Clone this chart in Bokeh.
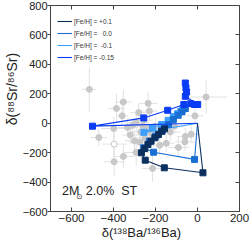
import numpy as np
from bokeh.plotting import figure
from bokeh.models import (LinearAxis, Range1d, FixedTicker, Legend, LegendItem, Label)
from bokeh.embed import file_html
from bokeh.resources import INLINE

# ---------------- data ----------------
# model tracks (delta values, per mil)
trk_p01_x = [0, 26, -158, -249, -267, -251, -236, -221, -203, -186, -171, -157]
trk_p01_y = [0, -337, -303, -251, -201, -172, -145, -122, -99, -77, -54, -38]

trk_000_x = [0, -14, -209, -256, -229, -199, -168, -138, -115, -92, -74, -58]
trk_000_y = [0, -246, -197, -167, -122, -88, -54, -9, 25, 54, 77, 100]

trk_m01_x = [0, -255, -214, -171, -140, -115, -95, -80, -70]
trk_m01_y = [0, -62, -32, -9, 20, 45, 65, 80, 95]

trk_m015_x = [0, -500, -256, -142, -65, -32, -14, 1, -58, -52, -55, -58]
trk_m015_y = [0, -20, 36, 88, 127, 133, 127, 127, 183, 212, 240, 273]

track_labels = ["[Fe/H] = +0.1", "[Fe/H] = \u00a0\u00a00.0", "[Fe/H] = \u00a0-0.1", "[Fe/H] = -0.15"]

# grain measurements (filled)
grain_x = [-515, -470, -399, -397, -386, -359, -353, -353, -333, -320, -300, -292, -292, -280,
           -270, -260, -250, -240, -235, -235, -229, -220, -214, -200, -180, -149, -130, -110,
           -91, -60, -58, -30, -12, 41, -310, -275, -255]
grain_y = [230, -97, -36, -262, 100, 50, 144, -226, -29, -80, -120, 5, -199, 72,
           -60, -20, -100, -40, 135, -29, 83, -70, -307, -20, -150, -136, -60, -20,
           -165, -127, -90, -75, 50, 178, -15, -130, 20]
grain_ex = [35, 40, 60, 50, 40, 30, 40, 50, 50, 40, 45, 40, 60, 40,
            45, 40, 50, 40, 45, 40, 40, 50, 50, 45, 50, 40, 45, 40,
            50, 45, 40, 40, 40, 100, 40, 50, 40]
grain_ey = [150, 60, 80, 100, 100, 70, 80, 80, 60, 60, 70, 60, 90, 60,
            60, 50, 70, 50, 80, 50, 60, 60, 90, 60, 70, 60, 60, 50,
            70, 60, 60, 60, 60, 115, 50, 60, 50]
# grain measurements (open symbols)
open_x = [-397]
open_y = [-142]
open_ex = [60]
open_ey = [80]

note_text = ["2M", "\u2299", "2.0%\u00a0 ST"]
note_x = [-645, -577, -532]
note_y = [-508, -532, -508]

# ---------------- figure ----------------
FONT = "Liberation Sans"
AXC = "#444444"
TXT = "#222222"

p = figure(width=249, height=242, x_range=Range1d(-700, 200), y_range=Range1d(-600, 800),
           output_backend="svg", toolbar_location=None,
           min_border_top=5, min_border_right=10, min_border_left=0, min_border_bottom=0)
p.grid.visible = False
p.outline_line_color = AXC
p.outline_line_width = 1
p.background_fill_color = "white"
p.border_fill_color = "white"

xt = FixedTicker(ticks=[-600, -400, -200, 0, 200])
yt = FixedTicker(ticks=[-600, -400, -200, 0, 200, 400, 600, 800])

xa = p.xaxis[0]
xa.ticker = xt
xa.major_tick_in = 4
xa.major_tick_out = 0
xa.minor_tick_line_color = None
xa.axis_line_color = AXC
xa.major_tick_line_color = AXC
xa.major_label_text_font = FONT
xa.major_label_text_font_size = "11.5px"
xa.major_label_text_color = TXT
xa.major_label_standoff = 2
xa.axis_label = "\u03b4(\u00b9\u00b3\u2078Ba/\u00b9\u00b3\u2076Ba)\u00a0\u00a0"
xa.axis_label_text_font = FONT
xa.axis_label_text_font_size = "13px"
xa.axis_label_text_font_style = "normal"
xa.axis_label_text_color = TXT
xa.axis_label_standoff = 0

ya = p.yaxis[0]
ya.ticker = yt
ya.major_tick_in = 0
ya.major_tick_out = 3
ya.minor_tick_line_color = None
ya.axis_line_color = AXC
ya.major_tick_line_color = AXC
ya.major_label_text_font = FONT
ya.major_label_text_font_size = "11px"
ya.major_label_text_color = TXT
ya.major_label_standoff = 0
ya.axis_label = "\u00a0" * 10 + "\u03b4(\u2078\u2078Sr/\u2078\u2076Sr)"
ya.axis_label_text_font = FONT
ya.axis_label_text_font_size = "14px"
ya.axis_label_text_font_style = "normal"
ya.axis_label_text_color = TXT
ya.axis_label_standoff = 0

top = LinearAxis(ticker=xt, major_tick_in=4, major_tick_out=0, minor_tick_line_color=None,
                 axis_line_color=None, major_tick_line_color=AXC,
                 major_label_text_font_size="1px", major_label_text_color=None,
                 major_label_standoff=0)
right = LinearAxis(ticker=yt, major_tick_in=4, major_tick_out=0, minor_tick_line_color=None,
                   axis_line_color=None, major_tick_line_color=AXC,
                   major_label_text_font_size="1px", major_label_text_color=None,
                   major_label_standoff=0)
p.add_layout(top, "above")
p.add_layout(right, "right")

# grains
gx = np.array(grain_x, float); gy = np.array(grain_y, float)
gex = np.array(grain_ex, float); gey = np.array(grain_ey, float)
ox = np.array(open_x, float); oy = np.array(open_y, float)
oex = np.array(open_ex, float); oey = np.array(open_ey, float)
ERR = "#e2e2e2"
p.segment(gx - gex, gy, gx + gex, gy, line_color=ERR, line_width=1)
p.segment(gx, gy - gey, gx, gy + gey, line_color=ERR, line_width=1)
p.segment(ox - oex, oy, ox + oex, oy, line_color=ERR, line_width=1)
p.segment(ox, oy - oey, ox, oy + oey, line_color=ERR, line_width=1)
p.scatter(gx, gy, marker="circle", size=6, fill_color="#c8c8c8", line_color="#c8c8c8")
p.scatter(ox, oy, marker="circle", size=6, fill_color="white", line_color="#c8c8c8")

# tracks
tracks = [
    (trk_p01_x, trk_p01_y, "#0b2f5e"),
    (trk_000_x, trk_000_y, "#1a6fd3"),
    (trk_m01_x, trk_m01_y, "#3f9ffc"),
    (trk_m015_x, trk_m015_y, "#0b3cf5"),
]
draw_order = [2, 1, 0, 3]
line_r = {}
for i in draw_order:
    tx, ty, col = tracks[i]
    line_r[i] = p.line(tx, ty, line_color=col, line_width=1.1)
    p.scatter(tx[1:], ty[1:], marker="square", size=6, fill_color=col, line_color=col)

legend = Legend(items=[LegendItem(label=track_labels[i], renderers=[line_r[i]]) for i in range(4)],
                location=(7, 150), margin=0, padding=2, spacing=4,
                glyph_width=15, glyph_height=8, label_height=8, label_standoff=2,
                label_text_font=FONT, label_text_font_size="6.5px", label_text_color="#333333",
                background_fill_alpha=0, border_line_color=None)
p.add_layout(legend)

p.add_layout(Label(x=note_x[0], y=note_y[0], text=note_text[0], text_font=FONT,
                   text_font_size="12.5px", text_color=TXT))
p.add_layout(Label(x=note_x[1], y=note_y[1], text=note_text[1], text_font="DejaVu Sans",
                   text_font_size="7.5px", text_color=TXT))
p.add_layout(Label(x=note_x[2], y=note_y[2], text=note_text[2], text_font=FONT,
                   text_font_size="12.5px", text_color=TXT))

open("out.html", "w").write(file_html(p, INLINE))
